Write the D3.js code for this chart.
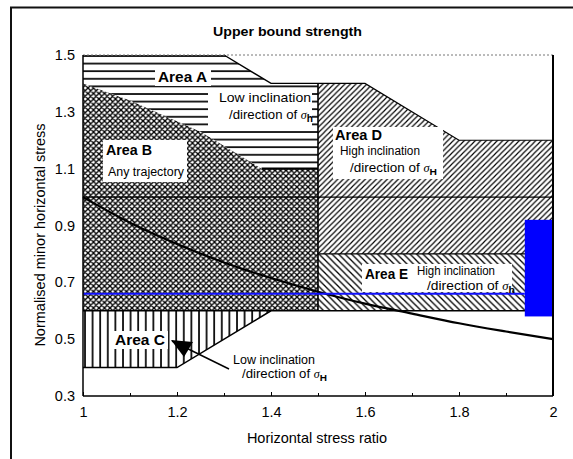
<!DOCTYPE html>
<html><head><meta charset="utf-8">
<script src="https://cdnjs.cloudflare.com/ajax/libs/d3/7.8.5/d3.min.js"></script>
<style>body{margin:0;background:#fff}svg{display:block}</style>
</head><body>
<svg id="c" width="573" height="459"></svg>
<script>
// ---------- data ----------
const xTicks = [1, 1.2, 1.4, 1.6, 1.8, 2];
const xMinorTicks = [1.1, 1.2, 1.3, 1.4, 1.5, 1.6, 1.7, 1.8, 1.9];
const yTicks = [0.3, 0.5, 0.7, 0.9, 1.1, 1.3, 1.5];

const areaA_x = [1, 1.3, 1.4, 1.5, 1.5, 1.38, 1.25, 1.1, 1];
const areaA_y = [1.5, 1.5, 1.4, 1.4, 1.1, 1.1, 1.23, 1.34, 1.4];
const areaB_x = [1, 1.1, 1.25, 1.38, 1.5, 1.5, 1];
const areaB_y = [1.4, 1.34, 1.23, 1.1, 1.1, 0.6, 0.6];
const areaC_x = [1, 1.4, 1.2, 1];
const areaC_y = [0.6, 0.6, 0.4, 0.4];
const areaD_x = [1.5, 1.6, 1.8, 2, 2, 1.5];
const areaD_y = [1.4, 1.4, 1.2, 1.2, 0.8, 0.8];
const areaE_x = [1.5, 2, 2, 1.5];
const areaE_y = [0.8, 0.8, 0.6, 0.6];

const curveX = [1, 1.1, 1.2, 1.3, 1.4, 1.5, 1.6, 1.7, 1.8, 1.9, 2];
const curveY = [1.0, 0.91, 0.835, 0.77, 0.715, 0.667, 0.625, 0.59, 0.556, 0.527, 0.5];

const blueLineY = 0.66;
const blueLineX = [1, 1.94];
const blueBandX = [1.94, 2];
const blueBandY = [0.58, 0.92];

// ---------- setup ----------
const svg = d3.select('#c');
const x = d3.scaleLinear().domain([1, 2]).range([83, 553]);
const y = d3.scaleLinear().domain([0.3, 1.5]).range([396, 55]);
const FONT = '"Liberation Sans", Arial, Helvetica, sans-serif';

// outer frame
svg.append('line').attr('x1', 10).attr('x2', 573).attr('y1', 7.5).attr('y2', 7.5).attr('stroke', '#111').attr('stroke-width', 2);
svg.append('line').attr('x1', 11).attr('x2', 11).attr('y1', 7).attr('y2', 459).attr('stroke', '#111').attr('stroke-width', 2);

// patterns
const defs = svg.append('defs');
const pA = defs.append('pattern').attr('id', 'pA').attr('patternUnits', 'userSpaceOnUse').attr('width', 20).attr('height', 7.6).attr('y', 55);
pA.append('line').attr('x1', 0).attr('x2', 20).attr('y1', 1).attr('y2', 1).attr('stroke', '#000').attr('stroke-width', 1.7);
const pB = defs.append('pattern').attr('id', 'pB').attr('patternUnits', 'userSpaceOnUse').attr('width', 5.5).attr('height', 5.5);
pB.append('path').attr('d', 'M0,0L5.5,5.5M0,5.5L5.5,0M-1,1L1,-1M4.5,6.5L6.5,4.5M-1,4.5L1,6.5M4.5,-1L6.5,1').attr('stroke', '#000').attr('stroke-width', 1.35).attr('fill', 'none');
const pC = defs.append('pattern').attr('id', 'pC').attr('patternUnits', 'userSpaceOnUse').attr('width', 7.6).attr('height', 20).attr('x', 84);
pC.append('line').attr('x1', 1).attr('x2', 1).attr('y1', 0).attr('y2', 20).attr('stroke', '#000').attr('stroke-width', 1.7);
const pD = defs.append('pattern').attr('id', 'pD').attr('patternUnits', 'userSpaceOnUse').attr('width', 5.5).attr('height', 5.5);
pD.append('path').attr('d', 'M0,5.5L5.5,0M-1,1L1,-1M4.5,6.5L6.5,4.5').attr('stroke', '#000').attr('stroke-width', 1.15).attr('fill', 'none');
const pE = defs.append('pattern').attr('id', 'pE').attr('patternUnits', 'userSpaceOnUse').attr('width', 6.5).attr('height', 6.5);
pE.append('path').attr('d', 'M0,0L6.5,6.5M-1,5.5L1,7.5M5.5,-1L7.5,1').attr('stroke', '#000').attr('stroke-width', 1.3).attr('fill', 'none');

const poly = (xs, ys) => xs.map((v, i) => [x(v), y(ys[i])]);
const line = d3.line();
const areas = [[areaA_x, areaA_y, 'pA'], [areaB_x, areaB_y, 'pB'], [areaC_x, areaC_y, 'pC'], [areaD_x, areaD_y, 'pD'], [areaE_x, areaE_y, 'pE']];
svg.append('g').selectAll('path').data(areas).join('path')
  .attr('d', d => line(poly(d[0], d[1])) + 'Z')
  .attr('fill', d => `url(#${d[2]})`).attr('stroke', 'none');

// boundary lines
const bounds = [
  [[1.3, 1.5], [1.4, 1.4], [1.5, 1.4], 1.4],
  [[1.38, 1.1], [1.5, 1.1], 2.2],
  [[1.5, 1.4], [1.6, 1.4], [1.8, 1.2], [2, 1.2], 1.2],
  [[1.5, 0.8], [2, 0.8], 1.3],
  [[1, 0.6], [2, 0.6], 1.3],
  [[1, 0.4], [1.2, 0.4], [1.4, 0.6], 1.5],
  [[1.5, 0.6], [1.5, 1.4], 1.6],
  [[1, 1.0], [2, 1.0], 1.3]
];
svg.append('g').selectAll('path').data(bounds).join('path')
  .attr('d', d => line(d.slice(0, -1).map(p => [x(p[0]), y(p[1])])))
  .attr('fill', 'none').attr('stroke', '#000').attr('stroke-width', d => d[d.length - 1]);

// white label boxes
const boxes = [[155, 67, 56, 19], [208, 88, 104, 40], [103, 140, 84, 42], [112, 331, 56, 18], [333, 127, 110, 52], [362, 264, 150, 28]];
svg.append('g').selectAll('rect').data(boxes).join('rect')
  .attr('x', d => d[0]).attr('y', d => d[1]).attr('width', d => d[2]).attr('height', d => d[3]).attr('fill', '#fff');

// curve
svg.append('path').attr('d', d3.line().curve(d3.curveMonotoneX)(curveX.map((v, i) => [x(v), y(curveY[i])])))
  .attr('fill', 'none').attr('stroke', '#000').attr('stroke-width', 2.2);

// blue line & band
svg.append('line').attr('x1', x(blueLineX[0])).attr('x2', x(blueLineX[1])).attr('y1', y(blueLineY)).attr('y2', y(blueLineY))
  .attr('stroke', '#1010ff').attr('stroke-width', 2);
svg.append('rect').attr('x', x(blueBandX[0])).attr('width', x(blueBandX[1]) - x(blueBandX[0]))
  .attr('y', y(blueBandY[1])).attr('height', y(blueBandY[0]) - y(blueBandY[1])).attr('fill', '#0000ff');

// plot frame
svg.append('line').attr('x1', x(1)).attr('x2', x(2)).attr('y1', y(1.5)).attr('y2', y(1.5)).attr('stroke', '#777').attr('stroke-width', 1).attr('stroke-dasharray', '2,2');
svg.append('line').attr('x1', x(1)).attr('x2', x(1)).attr('y1', y(1.5)).attr('y2', y(0.3)).attr('stroke', '#000').attr('stroke-width', 1.5);
svg.append('line').attr('x1', x(2)).attr('x2', x(2)).attr('y1', y(1.5)).attr('y2', y(0.3)).attr('stroke', '#000').attr('stroke-width', 2);
svg.append('line').attr('x1', x(1)).attr('x2', x(2)).attr('y1', y(0.3)).attr('y2', y(0.3)).attr('stroke', '#000').attr('stroke-width', 1.5);

// axes
const gx = svg.append('g').attr('transform', `translate(0,${y(0.3)})`)
  .call(d3.axisBottom(x).tickValues(xTicks).tickFormat(d3.format('')).tickSizeInner(-4).tickSizeOuter(0).tickPadding(11));
gx.select('.domain').remove();
gx.selectAll('text').attr('font-family', FONT).attr('font-size', 14.5).attr('fill', '#000');
const gxm = svg.append('g').attr('transform', `translate(0,${y(0.3)})`)
  .call(d3.axisBottom(x).tickValues(xMinorTicks).tickFormat('').tickSizeInner(-3).tickSizeOuter(0));
gxm.select('.domain').remove();

const gy = svg.append('g').attr('transform', `translate(${x(1)},0)`)
  .call(d3.axisLeft(y).tickValues(yTicks).tickFormat(d3.format('.1f')).tickSize(0).tickPadding(8));
gy.select('.domain').remove();
gy.selectAll('text').attr('font-family', FONT).attr('font-size', 14.5).attr('fill', '#000');

// titles
svg.append('text').attr('x', 213).attr('y', 36).attr('font-family', FONT).attr('font-weight', 'bold').attr('font-size', 13)
  .attr('textLength', 149).attr('lengthAdjust', 'spacingAndGlyphs').text('Upper bound strength');
svg.append('text').attr('x', 317).attr('y', 443).attr('text-anchor', 'middle').attr('font-family', FONT).attr('font-size', 14.5)
  .text('Horizontal stress ratio');
svg.append('text').attr('transform', 'translate(45,235) rotate(-90)').attr('text-anchor', 'middle').attr('font-family', FONT).attr('font-size', 14.5)
  .text('Normalised minor horizontal stress');

// area labels
const labels = [
  ['Area A', 158, 82, 14, true, 49, null],
  ['Low inclination', 219, 102, 13, false, 92, null],
  ['/direction of ', 229, 119, 13, false, 84, 'h'],
  ['Area B', 106, 155, 14, true, 46, null],
  ['Any trajectory', 108, 176, 12.5, false, 76, null],
  ['Area C', 115, 345, 14, true, 50, null],
  ['Low inclination', 233, 364, 12.5, false, 82, null],
  ['/direction of ', 242, 378, 12.5, false, 85, 'H'],
  ['Area D', 335, 140, 14, true, 47, null],
  ['High inclination', 340, 155, 12.5, false, 80, null],
  ['/direction of ', 350, 172, 12.5, false, 87, 'H'],
  ['Area E', 365, 279, 14, true, 43, null],
  ['High inclination', 417, 275, 12.5, false, 78, null],
  ['/direction of ', 427, 290, 12.5, false, 88, 'h']
];
labels.forEach(l => {
  const t = svg.append('text').attr('x', l[1]).attr('y', l[2]).attr('font-family', FONT)
    .attr('font-size', l[3]).attr('font-weight', l[4] ? 'bold' : 'normal')
    .attr('textLength', l[5]).attr('lengthAdjust', 'spacingAndGlyphs');
  t.append('tspan').text(l[0]);
  if (l[6]) {
    t.append('tspan').attr('font-style', 'italic').attr('font-family', '"Liberation Serif", serif').attr('font-size', l[3] - 1).text('σ');
    t.append('tspan').attr('dy', 3).attr('font-size', l[3] - 3).attr('font-weight', 'bold').text(l[6]);
  }
});

// arrow
svg.append('line').attr('x1', 229).attr('y1', 369).attr('x2', 172).attr('y2', 341)
  .attr('stroke', '#000').attr('stroke-width', 1.4);
svg.append('path').attr('d', 'M171,340 L193,342 L184,357 Z').attr('fill', '#000');
</script>
</body></html>
